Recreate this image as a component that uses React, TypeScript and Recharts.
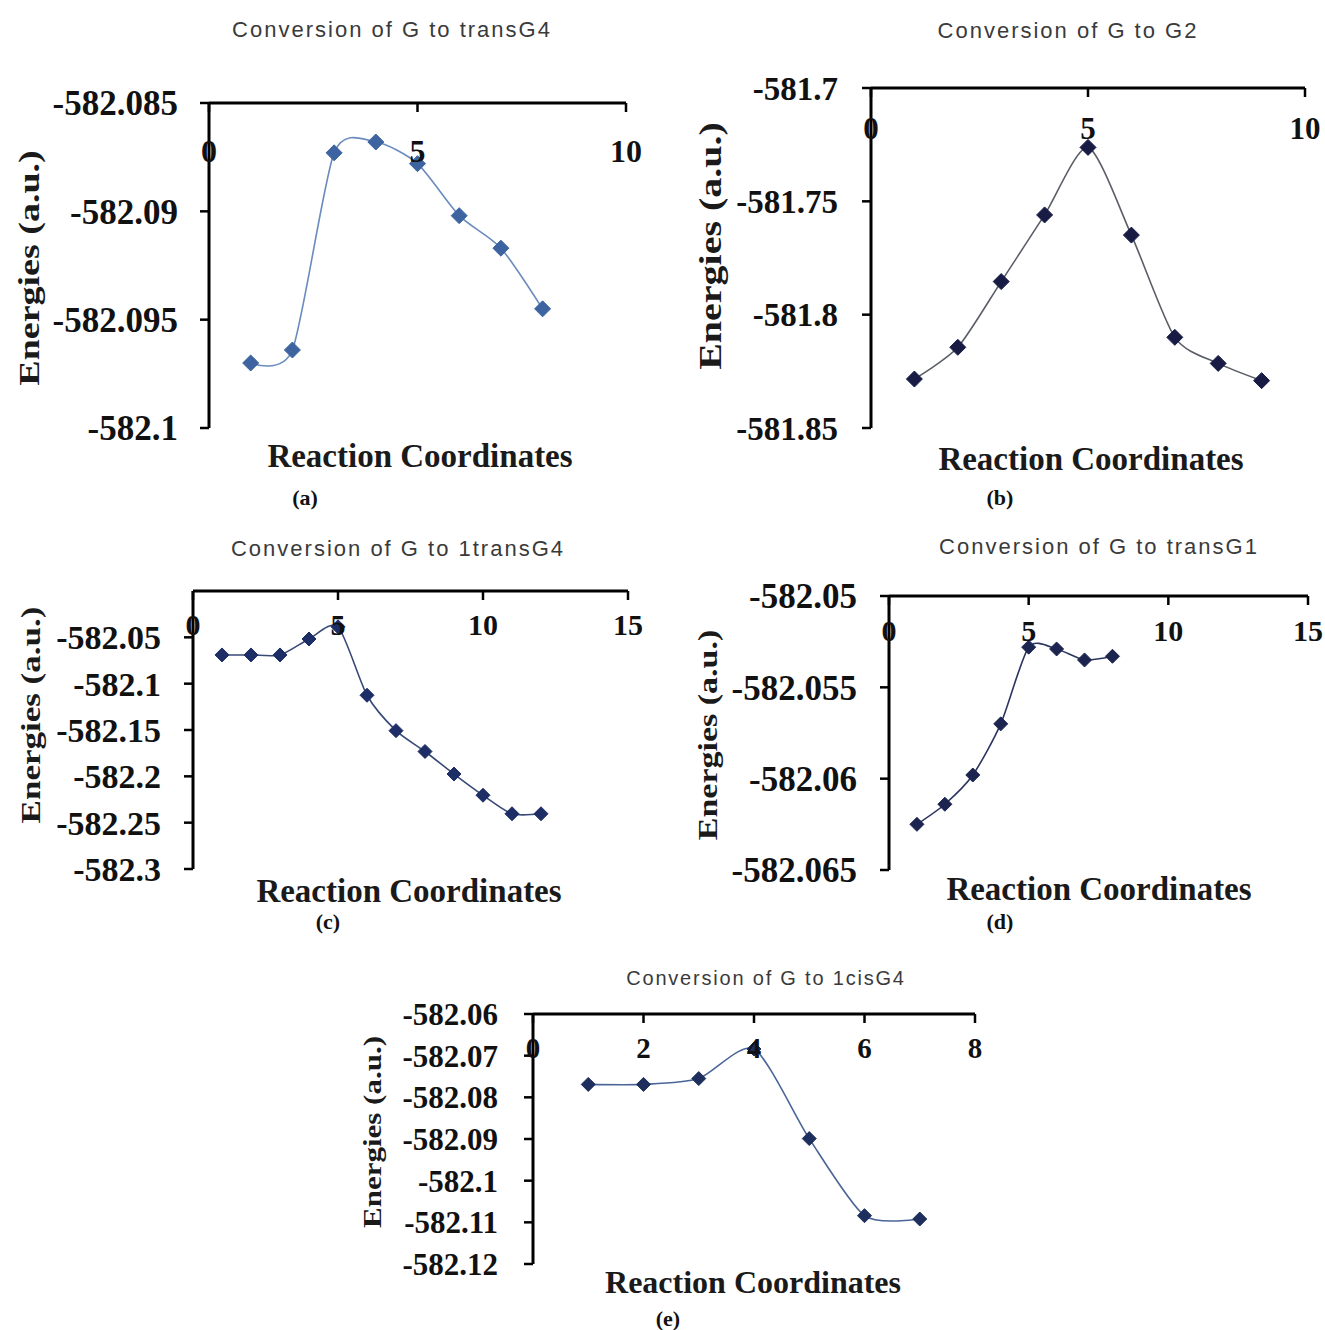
import React from 'react';
import { LineChart, Line, XAxis, YAxis } from 'recharts';

// (a) Conversion of G to transG4
const coordsA = [1, 2, 3, 4, 5, 6, 7, 8];
const energiesA = [-582.097, -582.0964, -582.0873, -582.0868, -582.0878, -582.0902, -582.0917, -582.0945];
const xTicksA = [0, 5, 10];
const yTicksA = [-582.1, -582.095, -582.09, -582.085];

// (b) Conversion of G to G2
const coordsB = [1, 2, 3, 4, 5, 6, 7, 8, 9];
const energiesB = [-581.8284, -581.8144, -581.7854, -581.756, -581.7262, -581.7649, -581.81, -581.8215, -581.8291];
const xTicksB = [0, 5, 10];
const yTicksB = [-581.85, -581.8, -581.75, -581.7];

// (c) Conversion of G to 1transG4
const coordsC = [1, 2, 3, 4, 5, 6, 7, 8, 9, 10, 11, 12];
const energiesC = [-582.069, -582.069, -582.069, -582.0518, -582.0386, -582.1125, -582.1507, -582.1732, -582.1975, -582.2204, -582.2404, -582.2404];
const xTicksC = [0, 5, 10, 15];
const yTicksC = [-582.3, -582.25, -582.2, -582.15, -582.1, -582.05];
const yTopC = -582.0; // axis runs up to -582 but that tick carries no label

// (d) Conversion of G to transG1
const coordsD = [1, 2, 3, 4, 5, 6, 7, 8];
const energiesD = [-582.0625, -582.0614, -582.0598, -582.057, -582.0528, -582.0529, -582.0535, -582.0533];
const xTicksD = [0, 5, 10, 15];
const yTicksD = [-582.065, -582.06, -582.055, -582.05];

// (e) Conversion of G to 1cisG4
const coordsE = [1, 2, 3, 4, 5, 6, 7];
const energiesE = [-582.0769, -582.0769, -582.0755, -582.0684, -582.0899, -582.1084, -582.1092];
const xTicksE = [0, 2, 4, 6, 8];
const yTicksE = [-582.12, -582.11, -582.1, -582.09, -582.08, -582.07, -582.06];

const SERIF = '"Liberation Serif", "Times New Roman", serif';
const SANS = '"Liberation Sans", Arial, sans-serif';

const YW = 200; // room left of the plot for y tick labels
const XH = 80; // room above the plot for the top x axis

// Excel style smoothed line (cardinal spline through the points)
const excelSmooth = (context: any) => {
  let x0 = NaN, y0 = NaN, x1 = NaN, y1 = NaN, x2 = NaN, y2 = NaN;
  let n = 0;
  const k = 0.12;
  const seg = (x: number, y: number) => {
    context.bezierCurveTo(
      x1 + k * (x2 - x0), y1 + k * (y2 - y0),
      x2 + k * (x1 - x), y2 + k * (y1 - y),
      x2, y2
    );
  };
  return {
    areaStart() {},
    areaEnd() {},
    lineStart() {
      x0 = x1 = x2 = y0 = y1 = y2 = NaN;
      n = 0;
    },
    lineEnd() {
      if (n === 2) context.lineTo(x2, y2);
      else if (n === 3) seg(x1, y1);
    },
    point(x: number, y: number) {
      x = +x;
      y = +y;
      if (n === 0) {
        n = 1;
        context.moveTo(x, y);
      } else if (n === 1) {
        n = 2;
        x1 = x;
        y1 = y;
      } else {
        n = 3;
        seg(x, y);
      }
      x0 = x1; x1 = x2; x2 = x;
      y0 = y1; y1 = y2; y2 = y;
    },
  };
};

interface PanelProps {
  plot: { left: number; top: number; right: number; bottom: number };
  coords: number[];
  energies: number[];
  xTicks: number[];
  yTicks: number[];
  yTop?: number;
  decimals: number;
  yFont: number;
  yGap: number;
  xFont: number;
  xBelow: number;
  stroke: string;
  fill: string;
  dotR: number;
}

const Panel: React.FC<PanelProps> = ({ plot, coords, energies, xTicks, yTicks, yTop, decimals, yFont, yGap, xFont, xBelow, stroke, fill, dotR }) => {
  const data = coords.map((c, i) => ({ x: c, e: energies[i] }));
  const w = YW + (plot.right - plot.left) + 40;
  const h = XH + (plot.bottom - plot.top) + 20;

  const XTick = (p: any) => (
    <g>
      <line x1={p.x} x2={p.x} y1={XH} y2={XH + 9} stroke="#000" strokeWidth={2.5} />
      <text x={p.x} y={XH + xBelow} dy="0.35em" textAnchor="middle" fontFamily={SERIF} fontWeight="bold" fontSize={xFont} fill="#111">
        {p.payload.value}
      </text>
    </g>
  );

  const YTick = (p: any) => (
    <text x={YW - yGap} y={p.y} dy="0.35em" textAnchor="end" fontFamily={SERIF} fontWeight="bold" fontSize={yFont} fill="#111">
      {Number(Number(p.payload.value).toFixed(decimals)).toString()}
    </text>
  );

  const Diamond = (p: any) => (
    <path
      key={`dot-${p.index}`}
      d={`M${p.cx},${p.cy - dotR}L${p.cx + dotR},${p.cy}L${p.cx},${p.cy + dotR}L${p.cx - dotR},${p.cy}Z`}
      fill={fill}
      stroke={fill}
      strokeWidth={1}
    />
  );

  return (
    <div style={{ position: 'absolute', left: plot.left - YW, top: plot.top - XH, width: w, height: h }}>
      <LineChart width={w} height={h} data={data} margin={{ top: 0, left: 0, right: 40, bottom: 20 }}>
        <XAxis
          dataKey="x"
          type="number"
          orientation="top"
          height={XH}
          domain={[xTicks[0], xTicks[xTicks.length - 1]]}
          ticks={xTicks}
          interval={0}
          allowDataOverflow
          axisLine={{ stroke: '#000', strokeWidth: 3 }}
          tickLine={false}
          tick={XTick}
        />
        <YAxis
          type="number"
          width={YW}
          domain={[yTicks[0], yTop ?? yTicks[yTicks.length - 1]]}
          ticks={yTicks}
          interval={0}
          allowDataOverflow
          axisLine={{ stroke: '#000', strokeWidth: 3 }}
          tickLine={{ stroke: '#000', strokeWidth: 2.5 }}
          tickSize={9}
          tick={YTick}
        />
        <Line
          dataKey="e"
          type={excelSmooth as any}
          stroke={stroke}
          strokeWidth={1.6}
          dot={Diamond}
          activeDot={false}
          isAnimationActive={false}
        />
      </LineChart>
    </div>
  );
};

const Title = ({ x, y, text, size = 22 }: { x: number; y: number; text: string; size?: number }) => (
  <text x={x} y={y} textAnchor="middle" fontFamily={SANS} fontSize={size} letterSpacing={size === 22 ? 2 : 1.8} fill="#3a3a3a">
    {text}
  </text>
);

const XTitle = ({ x, y, size = 33 }: { x: number; y: number; size?: number }) => (
  <text x={x} y={y} textAnchor="middle" fontFamily={SERIF} fontWeight="bold" fontSize={size} fill="#1a1a1a">
    Reaction Coordinates
  </text>
);

const YTitle = ({ x, y, size }: { x: number; y: number; size: number }) => (
  <text
    transform={`translate(${x},${y}) rotate(-90) scale(1,0.8)`}
    textAnchor="middle"
    dy="0.35em"
    fontFamily={SERIF}
    fontWeight="bold"
    fontSize={size}
    fill="#1a1a1a"
  >
    Energies (a.u.)
  </text>
);

const Caption = ({ x, y, text }: { x: number; y: number; text: string }) => (
  <text x={x} y={y} textAnchor="middle" fontFamily={SERIF} fontWeight="bold" fontSize={22} fill="#111">
    {text}
  </text>
);

const App: React.FC = () => {
  return (
    <div style={{ position: 'absolute', left: 0, top: 0, width: 1325, height: 1330, background: '#fff', overflow: 'hidden' }}>
      <Panel plot={{ left: 209, top: 103, right: 626, bottom: 428 }} coords={coordsA} energies={energiesA} xTicks={xTicksA} yTicks={yTicksA}
        decimals={3} yFont={35} yGap={31} xFont={32} xBelow={48} stroke="#6a8bbd" fill="#3d64a0" dotR={8} />
      <Panel plot={{ left: 871, top: 88, right: 1305, bottom: 428 }} coords={coordsB} energies={energiesB} xTicks={xTicksB} yTicks={yTicksB}
        decimals={2} yFont={33} yGap={33} xFont={31} xBelow={40} stroke="#5a5e66" fill="#181c45" dotR={8} />
      <Panel plot={{ left: 193, top: 591, right: 628, bottom: 869 }} coords={coordsC} energies={energiesC} xTicks={xTicksC} yTicks={yTicksC}
        yTop={yTopC} decimals={2} yFont={34} yGap={32} xFont={30} xBelow={33} stroke="#3a4a78" fill="#1d2d66" dotR={7} />
      <Panel plot={{ left: 889, top: 596, right: 1308, bottom: 870 }} coords={coordsD} energies={energiesD} xTicks={xTicksD} yTicks={yTicksD}
        decimals={3} yFont={35} yGap={32} xFont={30} xBelow={34} stroke="#2a3560" fill="#1c2550" dotR={7} />
      <Panel plot={{ left: 533, top: 1014, right: 975, bottom: 1264 }} coords={coordsE} energies={energiesE} xTicks={xTicksE} yTicks={yTicksE}
        decimals={2} yFont={31} yGap={35} xFont={29} xBelow={34} stroke="#4a6598" fill="#1e2f5e" dotR={7} />

      <svg width={1325} height={1330} style={{ position: 'absolute', left: 0, top: 0, pointerEvents: 'none' }}>
        <Title x={392} y={37} text="Conversion of G to transG4" />
        <Title x={1068} y={38} text="Conversion of G to G2" />
        <Title x={398} y={556} text="Conversion of G to 1transG4" />
        <Title x={1099} y={554} text="Conversion of G to transG1" />
        <Title x={766} y={985} text="Conversion of G to 1cisG4" size={20} />

        <XTitle x={420} y={467} />
        <XTitle x={1091} y={470} />
        <XTitle x={409} y={902} />
        <XTitle x={1099} y={900} />
        <XTitle x={753} y={1293} size={32} />

        <YTitle x={28} y={268} size={38} />
        <YTitle x={710} y={246} size={40} />
        <YTitle x={30} y={715} size={35} />
        <YTitle x={707} y={735} size={34} />
        <YTitle x={372} y={1132} size={31} />

        <Caption x={305} y={505} text="(a)" />
        <Caption x={1000} y={505} text="(b)" />
        <Caption x={328} y={929} text="(c)" />
        <Caption x={1000} y={929} text="(d)" />
        <Caption x={668} y={1326} text="(e)" />
      </svg>
    </div>
  );
};

export default App;
